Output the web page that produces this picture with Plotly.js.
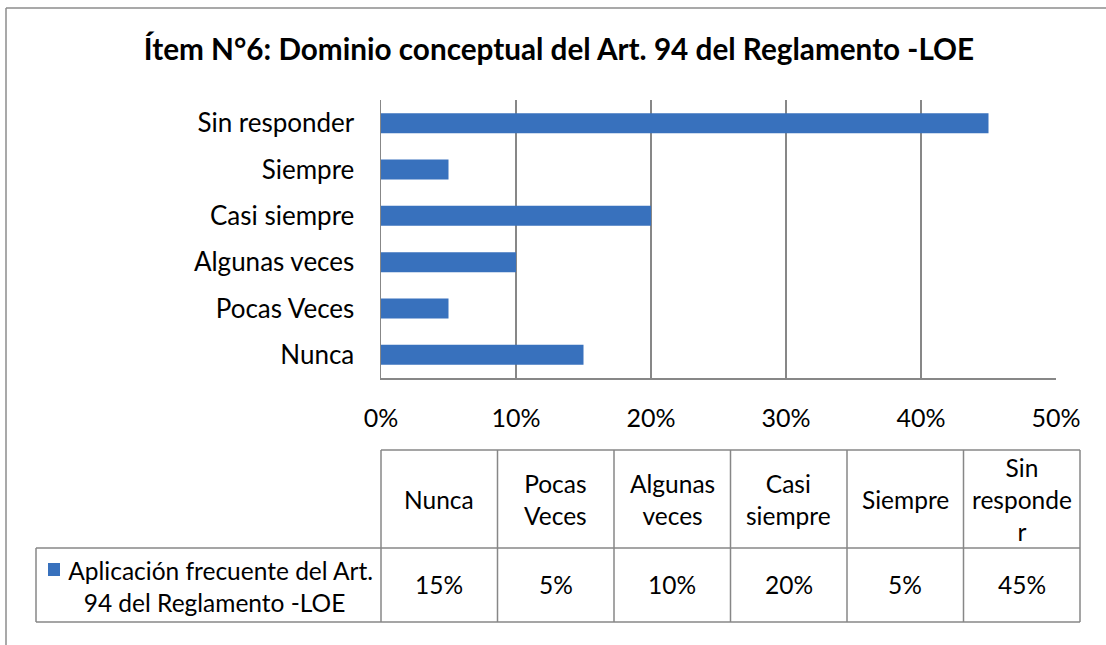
<!DOCTYPE html>
<html>
<head>
<meta charset="utf-8">
<script src="https://cdn.plot.ly/plotly-3.0.1.min.js"></script>
<style>
  html, body { margin: 0; padding: 0; background: #fff; }
  #chart { width: 1106px; height: 645px; }
</style>
</head>
<body>
<div id="chart"></div>
<script>
// data
const categories = ['Nunca', 'Pocas Veces', 'Algunas veces', 'Casi siempre', 'Siempre', 'Sin responder']
const values = [0.15, 0.05, 0.10, 0.20, 0.05, 0.45]
const headerLabels = ['Nunca', 'Pocas<br>Veces', 'Algunas<br>veces', 'Casi<br>siempre', 'Siempre', 'Sin<br>responde<br>r']
const seriesName = 'Aplicación frecuente del Art.<br>94 del Reglamento -LOE'
const chartTitle = 'Ítem N°6: Dominio conceptual del Art. 94 del Reglamento -LOE'

const BAR_COLOR = '#3871bd'
const GRID = '#878787'
const FONT = 'Lato, "Open Sans", sans-serif'

// plot area in pixels
const PL = 381, PR = 1056, PT = 100, PB = 378
const W = PR - PL, H = PB - PT
const px = x => (x - PL) / W
const py = y => (PB - y) / H

// data table geometry (pixels)
const TBL_TOP = 450, TBL_MID = 548, TBL_BOT = 622
const TBL_LEFT = 36, COL0 = 381, COL_W = 116.5
const TBL_RIGHT = COL0 + COL_W * categories.length

const line = (x0, y0, x1, y1, color, width) => ({
  type: 'line', xref: 'paper', yref: 'paper',
  x0: px(x0), y0: py(y0), x1: px(x1), y1: py(y1),
  line: { color: color || GRID, width: width || 1.5 },
})

const shapes = [
  // outer chart frame
  line(6, 8, 6, 700, '#8c8c8c', 1.5),
  line(6, 8, 1120, 8, '#8c8c8c', 1.5),
  // table lines
  line(COL0, TBL_TOP, TBL_RIGHT, TBL_TOP),
  line(TBL_LEFT, TBL_MID, TBL_RIGHT, TBL_MID),
  line(TBL_LEFT, TBL_BOT, TBL_RIGHT, TBL_BOT),
  line(TBL_LEFT, TBL_MID, TBL_LEFT, TBL_BOT),
  // legend key
  {
    type: 'rect', xref: 'paper', yref: 'paper',
    x0: px(48), x1: px(60), y0: py(563), y1: py(576),
    fillcolor: BAR_COLOR, line: { width: 0 },
  },
]
for (let i = 0; i <= categories.length; i++) {
  const x = COL0 + COL_W * i
  shapes.push(line(x, TBL_TOP, x, TBL_BOT))
}

const cellFont = { family: FONT, size: 24.5, color: '#000' }
const annotations = []
headerLabels.forEach((lab, i) => {
  annotations.push({
    xref: 'paper', yref: 'paper', showarrow: false,
    x: px(COL0 + COL_W * (i + 0.5)), y: py((TBL_TOP + TBL_MID) / 2),
    xanchor: 'center', yanchor: 'middle',
    text: lab, font: cellFont,
  })
  annotations.push({
    xref: 'paper', yref: 'paper', showarrow: false,
    x: px(COL0 + COL_W * (i + 0.5)), y: py((TBL_MID + TBL_BOT) / 2 - 1),
    xanchor: 'center', yanchor: 'middle',
    text: Math.round(values[i] * 100) + '%', font: cellFont,
  })
})
annotations.push({
  xref: 'paper', yref: 'paper', showarrow: false,
  x: px(214), y: py((TBL_MID + TBL_BOT) / 2 + 1),
  xanchor: 'center', yanchor: 'middle', align: 'center',
  text: '\u2002' + seriesName, font: cellFont,
})

const trace = {
  type: 'bar',
  orientation: 'h',
  x: values,
  y: categories,
  marker: { color: BAR_COLOR, line: { width: 0 } },
  hoverinfo: 'x+y',
}

const layout = {
  width: 1106,
  height: 645,
  margin: { l: PL, r: 1106 - PR, t: PT, b: 645 - PB, pad: 0 },
  paper_bgcolor: '#fff',
  plot_bgcolor: '#fff',
  showlegend: false,
  bargap: 0.57,
  title: {
    text: '<b>' + chartTitle + '</b>',
    font: { family: FONT, size: 29.7, color: '#000' },
    x: 559 / 1106, xanchor: 'center',
    y: 1 - 50 / 645, yanchor: 'middle',
  },
  font: { family: FONT, size: 25, color: '#000' },
  xaxis: {
    range: [0, 0.5],
    dtick: 0.1,
    tickformat: '.0%',
    showgrid: true,
    gridcolor: GRID,
    gridwidth: 1.5,
    zeroline: false,
    showline: true,
    linecolor: GRID,
    linewidth: 1.5,
    ticks: 'outside',
    ticklen: 17,
    tickcolor: 'rgba(0,0,0,0)',
    tickfont: { family: FONT, size: 25, color: '#000' },
    fixedrange: true,
  },
  yaxis: {
    type: 'category',
    showgrid: false,
    zeroline: false,
    showline: true,
    linecolor: GRID,
    linewidth: 1.5,
    ticks: 'outside',
    ticklen: 20,
    tickcolor: 'rgba(0,0,0,0)',
    tickfont: { family: FONT, size: 26, color: '#000' },
    fixedrange: true,
  },
  shapes: shapes,
  annotations: annotations,
}

try {
  Plotly.newPlot('chart', [ trace ], layout, { displayModeBar: false, staticPlot: true })
} catch (e) {
  console.log('ERR', e)
}
</script>
</body>
</html>
